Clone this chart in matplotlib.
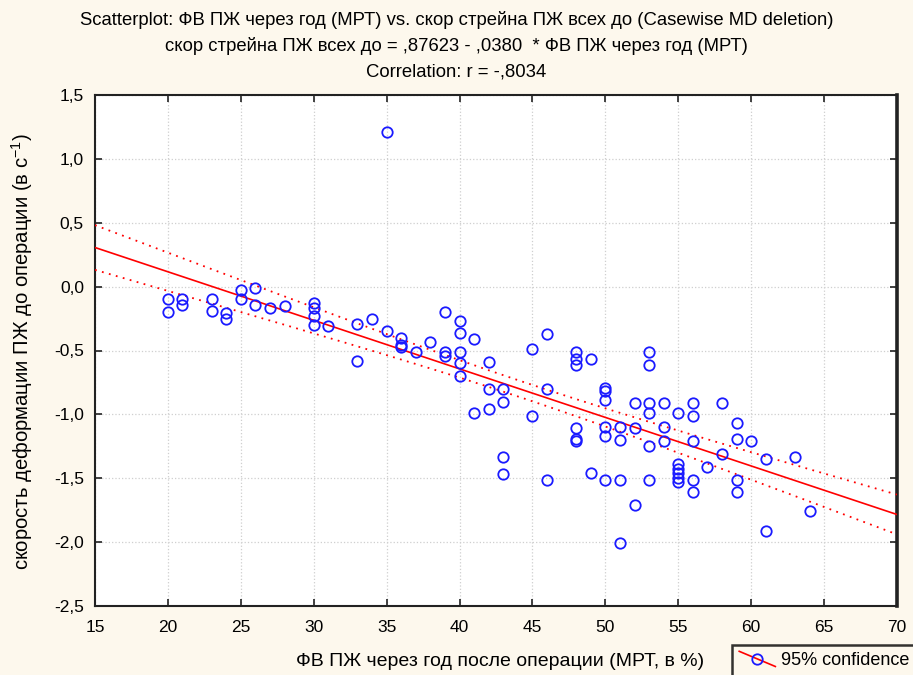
import numpy as np
import matplotlib
matplotlib.use('Agg')
import matplotlib.pyplot as plt
from matplotlib.lines import Line2D
from matplotlib.legend_handler import HandlerBase
from matplotlib.ticker import FuncFormatter, MultipleLocator

plt.rcParams['font.family'] = ['Liberation Sans', 'DejaVu Sans']
plt.rcParams['mathtext.fontset'] = 'custom'
plt.rcParams['mathtext.rm'] = 'Liberation Sans'
plt.rcParams['mathtext.it'] = 'Liberation Sans'

# ФВ ПЖ через год (МРТ), %
fv = [35, 20, 20, 21, 21, 23, 23, 24, 24, 25, 25, 26, 26, 27, 28,
      30, 30, 30, 30, 31, 33, 33, 34, 35, 36, 36, 36, 37, 38, 39, 39, 39,
      40, 40, 40, 40, 40, 41, 41, 42, 42, 42, 43, 43, 43, 43, 45, 45,
      46, 46, 46, 48, 48, 48, 48, 48, 48, 49, 49,
      50, 50, 50, 50, 50, 50, 51, 51, 51, 51, 52, 52, 52,
      53, 53, 53, 53, 53, 53, 54, 54, 54, 55, 55, 55, 55, 55, 55,
      56, 56, 56, 56, 56, 57, 58, 58, 59, 59, 59, 59, 60, 61, 61, 63, 64]

# скорость деформации ПЖ до операции, 1/с
strain = [1.21, -0.10, -0.20, -0.10, -0.14, -0.10, -0.19, -0.21, -0.25, -0.03, -0.10, -0.01, -0.14, -0.17, -0.15,
          -0.13, -0.17, -0.23, -0.30, -0.31, -0.29, -0.58, -0.25, -0.35, -0.40, -0.46, -0.47, -0.51, -0.43, -0.20, -0.51, -0.54,
          -0.27, -0.36, -0.51, -0.60, -0.70, -0.41, -0.99, -0.59, -0.80, -0.96, -0.80, -0.90, -1.33, -1.47, -0.49, -1.01,
          -0.37, -0.80, -1.51, -0.51, -0.57, -0.61, -1.11, -1.19, -1.21, -0.57, -1.46,
          -0.79, -0.82, -0.89, -1.10, -1.17, -1.51, -1.10, -1.20, -1.51, -2.01, -0.91, -1.11, -1.71,
          -0.51, -0.61, -0.91, -0.99, -1.25, -1.51, -0.91, -1.10, -1.21, -0.99, -1.39, -1.43, -1.46, -1.50, -1.53,
          -0.91, -1.01, -1.21, -1.51, -1.61, -1.41, -0.91, -1.31, -1.07, -1.19, -1.51, -1.61, -1.21, -1.35, -1.91, -1.33, -1.76]

# regression from the equation in the header
intercept = 0.87623
slope = -0.0380
r_value = -0.8034

x = np.array(fv, dtype=float)
y = np.array(strain, dtype=float)

xs = np.linspace(15, 70, 200)
fit = intercept + slope * xs

# 95% confidence band of the mean
n = len(x)
resid = y - (intercept + slope * x)
s = np.sqrt(np.sum(resid ** 2) / (n - 2))
sxx = np.sum((x - x.mean()) ** 2)
half = 1.984 * s * np.sqrt(1.0 / n + (xs - x.mean()) ** 2 / sxx)

bg = '#fdf8ed'
fig = plt.figure(figsize=(9.13, 6.75), dpi=100, facecolor=bg)
ax = fig.add_axes([95 / 913, 1 - 606 / 675, 802 / 913, 511 / 675])
ax.set_facecolor('white')

ax.plot(xs, fit, color='#ff0000', lw=1.2, zorder=3)
ax.plot(xs, fit + half, color='#ff0000', lw=1.3, ls=(0, (1, 3)), zorder=3)
ax.plot(xs, fit - half, color='#ff0000', lw=1.3, ls=(0, (1, 3)), zorder=3)
ax.plot(x, y, 'o', ms=7.5, mfc='none', mec='#1a1aff', mew=1.3, zorder=4)

ax.set_xlim(15, 70)
ax.set_ylim(-2.5, 1.5)
ax.xaxis.set_major_locator(MultipleLocator(5))
ax.yaxis.set_major_locator(MultipleLocator(0.5))
ax.xaxis.set_major_formatter(FuncFormatter(lambda v, _: '%d' % v))
ax.yaxis.set_major_formatter(FuncFormatter(lambda v, _: ('%.1f' % v).replace('.', ',')))
ax.grid(True, color='#cfcfcf', ls=':', lw=0.9)
ax.tick_params(direction='in', length=5, width=1.2, color='#222222', labelsize=12.5,
               top=True, right=True)
ax.tick_params(axis='x', pad=10)
ax.tick_params(axis='y', pad=8)
for side in ax.spines:
    ax.spines[side].set_color('#222222')
    ax.spines[side].set_linewidth(1.5)
ax.spines['right'].set_linewidth(2.6)

fig.text(0.5, 1 - 20 / 675, 'Scatterplot: ФВ ПЖ через год (МРТ) vs. скор стрейна ПЖ всех до (Casewise MD deletion)',
         ha='center', va='center', fontsize=13.3)
fig.text(0.5, 1 - 46 / 675, 'скор стрейна ПЖ всех до = ,87623 - ,0380  * ФВ ПЖ через год (МРТ)',
         ha='center', va='center', fontsize=13.3)
fig.text(0.5, 1 - 72 / 675, 'Correlation: r = ' + ('%.4f' % r_value).replace('0.', ','),
         ha='center', va='center', fontsize=13.3)

fig.text(500 / 913, 1 - 662 / 675, 'ФВ ПЖ через год после операции (МРТ, в %)',
         ha='center', va='center', fontsize=14)
fig.text(22 / 913, 1 - 352 / 675, 'скорость деформации ПЖ до операции (в с$^{-1}$)',
         ha='center', va='center', rotation=90, fontsize=14.6)


class DiagonalHandler(HandlerBase):
    def create_artists(self, legend, orig, xd, yd, width, height, fontsize, trans):
        line = Line2D([xd, xd + width], [yd + height * 1.1, yd - height * 0.1],
                      color='#ff0000', lw=1.2, transform=trans)
        mark = Line2D([xd + width / 2], [yd + height / 2], marker='o', ms=7.5,
                      mfc='none', mec='#1a1aff', mew=1.3, transform=trans)
        return [line, mark]


handle = Line2D([], [])
leg = fig.legend([handle], ['95% confidence'], loc='upper left',
                 bbox_to_anchor=(732 / 913, 1 - 645 / 675), fontsize=13, frameon=True,
                 fancybox=False, handler_map={Line2D: DiagonalHandler()},
                 handlelength=2.0, handletextpad=0.3, borderpad=0.4, borderaxespad=0)
leg.get_frame().set_edgecolor('black')
leg.get_frame().set_linewidth(1.8)
leg.get_frame().set_facecolor(bg)

fig.savefig('out.png', dpi=100, facecolor=bg)
plt.close(fig)
